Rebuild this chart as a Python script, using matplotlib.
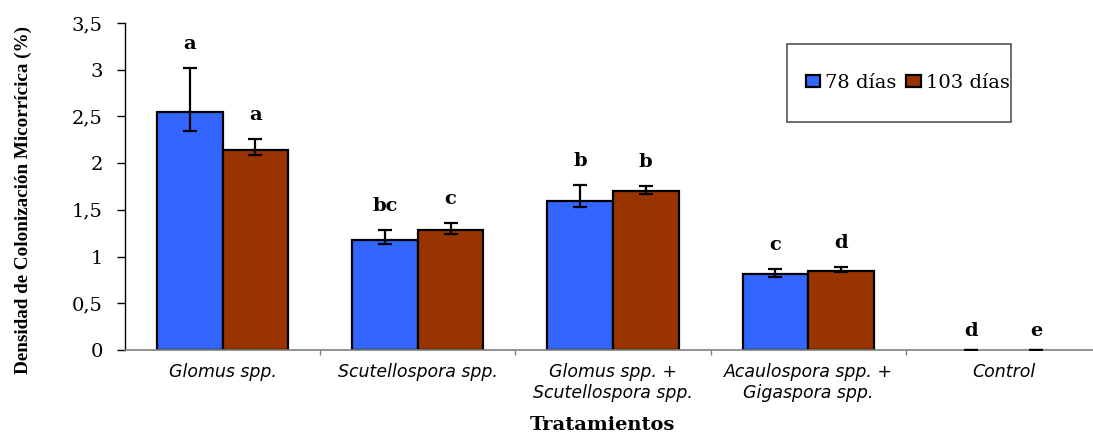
import matplotlib
matplotlib.use("Agg")
import matplotlib.pyplot as plt
from matplotlib.patches import Rectangle, Patch
import numpy as np

# Treatments (x axis) and mean colonization density per sampling date
categories = ["Glomus spp.", "Scutellospora spp.", "Glomus spp. +\nScutellospora spp.",
              "Acaulospora spp. +\nGigaspora spp.", "Control"]
series_names = ["78 días", "103 días"]
values_78 = [2.55, 1.18, 1.60, 0.81, 0.0]
values_103 = [2.14, 1.28, 1.70, 0.85, 0.0]
err_78_low = [0.21, 0.045, 0.07, 0.025, 0.0]
err_78_high = [0.47, 0.10, 0.17, 0.055, 0.0]
err_103_low = [0.05, 0.035, 0.025, 0.02, 0.0]
err_103_high = [0.12, 0.075, 0.055, 0.035, 0.0]
letters_78 = ["a", "bc", "b", "c", "d"]
letters_103 = ["a", "c", "b", "d", "e"]
yticks = [0, 0.5, 1, 1.5, 2, 2.5, 3, 3.5]
ytick_labels = ["0", "0,5", "1", "1,5", "2", "2,5", "3", "3,5"]

W, H = 1093, 436
fig = plt.figure(figsize=(W / 100, H / 100), dpi=100)
ax = fig.add_axes([125 / W, (H - 350) / H, (1101 - 125) / W, 327 / H])

x = np.arange(len(categories))
bw = 0.336
col78, col103 = "#3366FF", "#993300"

for off, vals, lo, hi, col, letters in [
    (-bw / 2, values_78, err_78_low, err_78_high, col78, letters_78),
    (bw / 2, values_103, err_103_low, err_103_high, col103, letters_103),
]:
    lws = [1.6 if v > 0 else 0 for v in vals]
    ax.bar(x + off, vals, width=bw, color=col, edgecolor="black", linewidth=lws, zorder=2)
    ax.errorbar(x + off, vals, yerr=[lo, hi], fmt="none", ecolor="black",
                elinewidth=1.6, capsize=5, capthick=1.6, zorder=3)
    for xi, v, h, t in zip(x + off, vals, hi, letters):
        ax.annotate(t, (xi, v + h), xytext=(0, 24 if v > 0 else 19),
                    textcoords="offset pixels", ha="center", va="center",
                    fontsize=14, fontweight="bold", family="DejaVu Serif", zorder=4)

ax.set_xlim(-0.5, len(categories) - 0.5)
ax.set_ylim(0, 3.5)
ax.set_yticks(yticks)
ax.set_yticklabels(ytick_labels, family="DejaVu Serif", fontsize=14)
ax.tick_params(axis="y", length=6, width=1, color="black", pad=10)

ax.set_xticks(x)
ax.set_xticklabels(categories, family="DejaVu Sans", style="italic", fontsize=12.5,
                   linespacing=1.25)
ax.tick_params(axis="x", length=0, pad=9)
ax.set_xticks(np.arange(len(categories) - 1) + 0.5, minor=True)
ax.tick_params(axis="x", which="minor", length=3.5, width=1, color="#808080")

for s in ["top", "right"]:
    ax.spines[s].set_visible(False)
ax.spines["left"].set_color("black")
ax.spines["left"].set_linewidth(1)
ax.spines["bottom"].set_color("#808080")
ax.spines["bottom"].set_linewidth(1.2)

fig.text(23 / W, 1 - 200 / H, "Densidad de Colonización Micorrícica (%)", rotation=90,
         ha="center", va="center", family="Liberation Serif", fontweight="bold", fontsize=13.8)
fig.text(602 / W, 1 - 425 / H, "Tratamientos", ha="center", va="center",
         family="DejaVu Serif", fontweight="bold", fontsize=14)

# Legend with its own outlined box
fig.patches.append(Rectangle((787 / W, 1 - 122 / H), (1011 - 787) / W, (122 - 44) / H,
                             transform=fig.transFigure, facecolor="white",
                             edgecolor="#555555", linewidth=1.2, zorder=5))
handles = [Patch(facecolor=col78, edgecolor="black", linewidth=1.6),
           Patch(facecolor=col103, edgecolor="black", linewidth=1.6)]
fig.legend(handles, series_names, loc="center left", bbox_to_anchor=(796 / W, 1 - 83 / H),
           ncol=2, frameon=False, borderpad=0, handlelength=0.75, handleheight=0.57,
           handletextpad=0.26, columnspacing=0.5,
           prop={"family": "DejaVu Serif", "size": 14})

fig.savefig("out.png", dpi=100)
